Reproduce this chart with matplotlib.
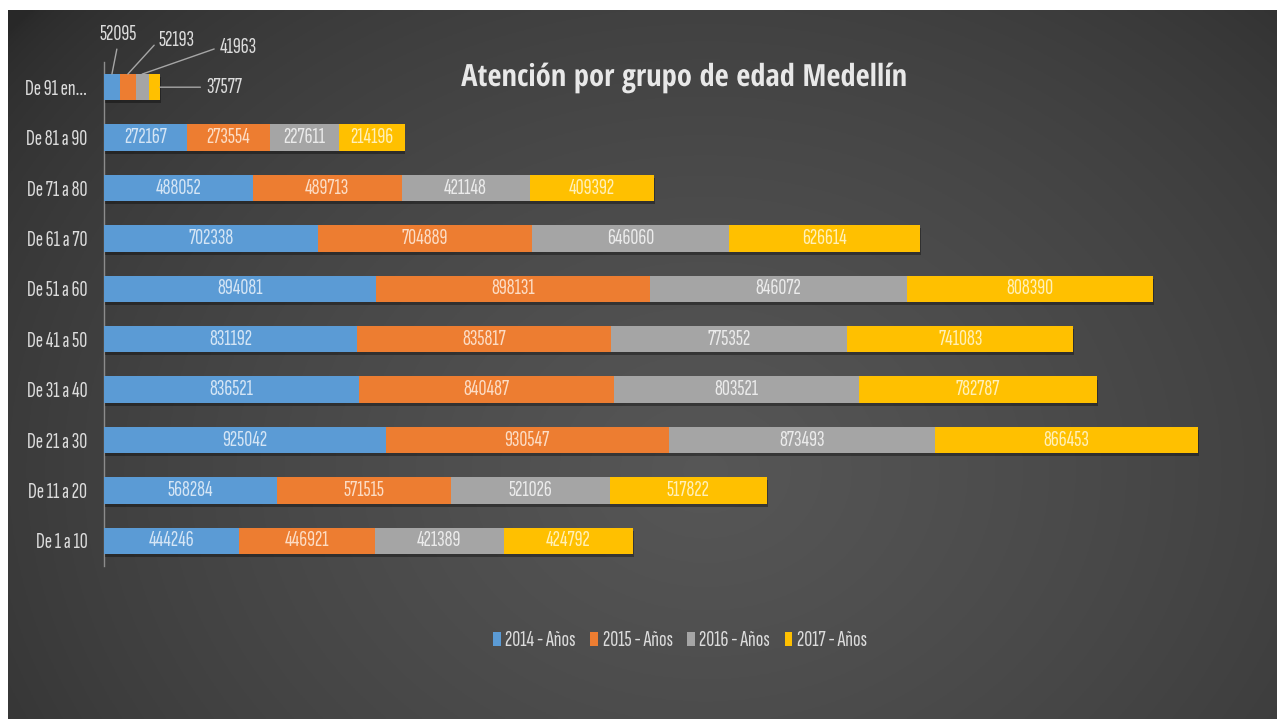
import matplotlib
matplotlib.use('Agg')
import matplotlib.pyplot as plt
import matplotlib.patheffects as pe
from matplotlib.patches import Patch
from matplotlib import font_manager
import numpy as np

# atenciones por grupo de edad, de abajo hacia arriba
categories = ['De 1 a 10', 'De 11 a 20', 'De 21 a 30', 'De 31 a 40', 'De 41 a 50',
              'De 51 a 60', 'De 61 a 70', 'De 71 a 80', 'De 81 a 90', 'De 91 en...']
y2014 = [444246, 568284, 925042, 836521, 831192, 894081, 702338, 488052, 272167, 52095]
y2015 = [446921, 571515, 930547, 840487, 835817, 898131, 704889, 489713, 273554, 52193]
y2016 = [421389, 521026, 873493, 803521, 775352, 846072, 646060, 421148, 227611, 41963]
y2017 = [424792, 517822, 866453, 782787, 741083, 808390, 626614, 409392, 214196, 37577]
series_names = ['2014 - Años', '2015 - Años', '2016 - Años', '2017 - Años']

colors = ['#5b9bd5', '#ed7d31', '#a5a5a5', '#ffc000']
label_colors = ['#d4e5f5', '#fcdcc4', '#ebebeb', '#fff0b8']
txt_col = '#dcdcdc'

installed = {f.name for f in font_manager.fontManager.ttflist}
if 'Sofia Sans Extra Condensed' in installed:
    body_font = ['Sofia Sans Extra Condensed', 'DejaVu Sans']
    fs = 16
else:
    body_font = ['DejaVu Sans']
    fs = 9.5
if 'Open Sans Condensed' in installed:
    title_font = ['Open Sans Condensed', 'DejaVu Sans']
    title_fs = 22
else:
    title_font = ['DejaVu Sans']
    title_fs = 16
plt.rcParams['font.family'] = body_font

W, H = 1277, 719
fig = plt.figure(figsize=(W / 100, H / 100), dpi=100)
fig.patch.set_facecolor('white')

# dark radial backdrop
bg = fig.add_axes([8 / W, 0, 1 - 8 / W, 1 - 10 / H])
bg.set_axis_off()
xx, yy = np.meshgrid(np.linspace(0, 1, 500), np.linspace(0, 1, 300))
r = np.sqrt(((xx - 0.55) / 0.7) ** 2 + ((yy - 0.65) / 1.0) ** 2)
val = 0.16 + (0.34 - 0.16) * np.clip(1 - r, 0, 1) ** 0.6
bg.imshow(np.dstack([val, val, val]), aspect='auto', extent=[0, 1, 0, 1])
bg.set_xlim(0, 1)
bg.set_ylim(0, 1)

ax = fig.add_axes([104 / W, (H - 566) / H, (1250 - 104) / W, (566 - 62) / H])
ax.set_facecolor('none')

ypos = np.arange(len(categories))
left = np.zeros(len(categories))
shadow = [pe.SimplePatchShadow(offset=(0.6, -2.2), shadow_rgbFace='black', alpha=0.35), pe.Normal()]
containers = []
for vals, c, lc in zip([y2014, y2015, y2016, y2017], colors, label_colors):
    bars = ax.barh(ypos, vals, left=left, height=0.52, color=c, zorder=3, path_effects=shadow)
    labs = [str(v) if i < len(categories) - 1 else '' for i, v in enumerate(vals)]
    ax.bar_label(bars, labels=labs, label_type='center', color=lc, fontsize=fs)
    containers.append(bars)
    left = left + np.array(vals)

# top row is too short for inner labels: use leader lines
top = len(categories) - 1
tops = [containers[k][top] for k in range(4)]
line_kw = dict(arrowstyle='-', color='#a6a6a6', lw=1, shrinkA=2, shrinkB=0)
specs = [  # (x anchor, y anchor, offset px, relpos)
    (tops[0].get_x() + tops[0].get_width() / 2, top + 0.26, (6, 40), (0.5, 0)),
    (tops[1].get_x() + tops[1].get_width() / 2, top + 0.26, (49, 34), (0, 0.5)),
    (tops[2].get_x() + tops[2].get_width() / 2, top + 0.26, (96, 27), (0, 0.5)),
    (tops[3].get_x() + tops[3].get_width(), top, (64, 0), (0, 0.5)),
]
for k, (xa, ya, off, rp) in enumerate(specs):
    val_k = [y2014, y2015, y2016, y2017][k][top]
    ax.annotate(str(val_k), xy=(xa, ya), xytext=off, textcoords='offset pixels',
                ha='center', va='center', color=txt_col, fontsize=fs, zorder=5,
                arrowprops=dict(relpos=rp, **line_kw))

ax.set_xlim(0, 3.765e6)
ax.set_ylim(-0.5, len(categories) - 0.5)
ax.set_xticks([])
ax.set_yticks(ypos)
ax.set_yticklabels(categories, color=txt_col, fontsize=fs)
ax.tick_params(axis='y', left=False, pad=8.5)
for s in ['top', 'right', 'bottom']:
    ax.spines[s].set_visible(False)
ax.spines['left'].set_color('#8c8c8c')
ax.spines['left'].set_linewidth(1)

fig.text(684 / W, (H - 78) / H, 'Atención por grupo de edad Medellín', ha='center', va='center',
         fontsize=title_fs, fontweight='bold', color='#e8e8e8', family=title_font,
         path_effects=[pe.withSimplePatchShadow(offset=(1, -1.5), alpha=0.6)])

handles = [Patch(facecolor=c) for c in colors]
fig.legend(handles, series_names, loc='center', bbox_to_anchor=(680 / W, (H - 641) / H),
           ncol=4, frameon=False, handlelength=0.35, handleheight=0.6, handletextpad=0.2,
           columnspacing=0.65, labelcolor=txt_col, fontsize=fs)

fig.savefig('out.png', dpi=100)
